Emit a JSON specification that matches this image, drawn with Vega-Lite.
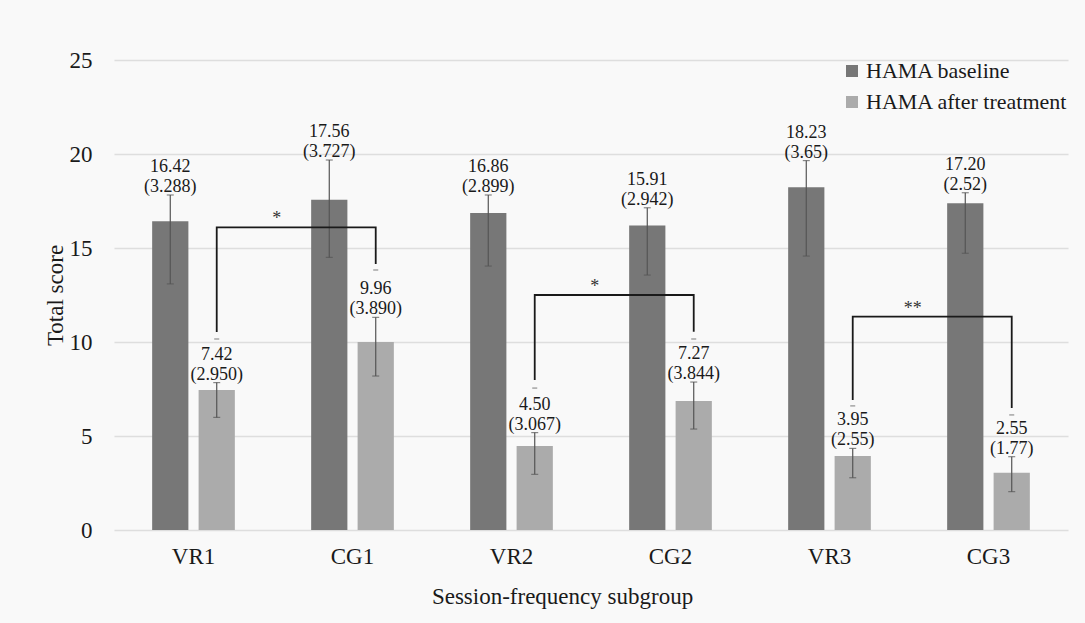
{
  "$schema": "https://vega.github.io/schema/vega-lite/v6.json",
  "width": 954,
  "height": 470,
  "autosize": {"type": "none"},
  "padding": {"left": 114, "top": 60, "right": 17, "bottom": 93},
  "background": "#f9f9f9",
  "config": {
    "font": "Liberation Serif",
    "view": {"stroke": null},
    "axis": {"labelFont": "Liberation Serif", "titleFont": "Liberation Serif", "labelColor": "#1a1a1a", "titleColor": "#1a1a1a", "titleFontWeight": "normal"},
    "legend": {"labelFont": "Liberation Serif"}
  },
  "datasets": {
    "bars": [
      {"group": "VR1", "series": "HAMA baseline", "value": 16.42, "lo": 13.09, "hi": 17.82, "label": "16.42\n(3.288)"},
      {"group": "CG1", "series": "HAMA baseline", "value": 17.56, "lo": 14.5, "hi": 19.68, "label": "17.56\n(3.727)"},
      {"group": "VR2", "series": "HAMA baseline", "value": 16.86, "lo": 14.04, "hi": 17.82, "label": "16.86\n(2.899)"},
      {"group": "CG2", "series": "HAMA baseline", "value": 16.2, "lo": 13.56, "hi": 17.14, "label": "15.91\n(2.942)"},
      {"group": "VR3", "series": "HAMA baseline", "value": 18.23, "lo": 14.57, "hi": 19.65, "label": "18.23\n(3.65)"},
      {"group": "CG3", "series": "HAMA baseline", "value": 17.38, "lo": 14.72, "hi": 17.94, "label": "17.20\n(2.52)"},
      {"group": "VR1", "series": "HAMA after treatment", "value": 7.45, "lo": 5.99, "hi": 7.84, "label": "7.42\n(2.950)"},
      {"group": "CG1", "series": "HAMA after treatment", "value": 10.0, "lo": 8.19, "hi": 11.31, "label": "9.96\n(3.890)"},
      {"group": "VR2", "series": "HAMA after treatment", "value": 4.47, "lo": 2.96, "hi": 5.18, "label": "4.50\n(3.067)"},
      {"group": "CG2", "series": "HAMA after treatment", "value": 6.86, "lo": 5.37, "hi": 7.87, "label": "7.27\n(3.844)"},
      {"group": "VR3", "series": "HAMA after treatment", "value": 3.94, "lo": 2.78, "hi": 4.34, "label": "3.95\n(2.55)"},
      {"group": "CG3", "series": "HAMA after treatment", "value": 3.05, "lo": 2.04, "hi": 3.9, "label": "2.55\n(1.77)"}
    ],
    "brackets": [
      {"b": 1, "ord": 1, "group": "VR1", "series": "HAMA after treatment", "y": 10.53},
      {"b": 1, "ord": 2, "group": "VR1", "series": "HAMA after treatment", "y": 16.1},
      {"b": 1, "ord": 3, "group": "CG1", "series": "HAMA after treatment", "y": 16.1},
      {"b": 1, "ord": 4, "group": "CG1", "series": "HAMA after treatment", "y": 14.15},
      {"b": 2, "ord": 1, "group": "VR2", "series": "HAMA after treatment", "y": 7.98},
      {"b": 2, "ord": 2, "group": "VR2", "series": "HAMA after treatment", "y": 12.5},
      {"b": 2, "ord": 3, "group": "CG2", "series": "HAMA after treatment", "y": 12.5},
      {"b": 2, "ord": 4, "group": "CG2", "series": "HAMA after treatment", "y": 10.55},
      {"b": 3, "ord": 1, "group": "VR3", "series": "HAMA after treatment", "y": 6.91},
      {"b": 3, "ord": 2, "group": "VR3", "series": "HAMA after treatment", "y": 11.35},
      {"b": 3, "ord": 3, "group": "CG3", "series": "HAMA after treatment", "y": 11.35},
      {"b": 3, "ord": 4, "group": "CG3", "series": "HAMA after treatment", "y": 6.49}
    ],
    "caps": [
      {"group": "VR1", "series": "HAMA after treatment", "y": 10.16},
      {"group": "CG1", "series": "HAMA after treatment", "y": 13.83},
      {"group": "VR2", "series": "HAMA after treatment", "y": 7.55},
      {"group": "CG2", "series": "HAMA after treatment", "y": 10.16},
      {"group": "VR3", "series": "HAMA after treatment", "y": 6.6},
      {"group": "CG3", "series": "HAMA after treatment", "y": 6.12}
    ],
    "stars": [
      {"group": "VR1", "series": "HAMA after treatment", "y": 16.1, "star": "*"},
      {"group": "VR2", "series": "HAMA after treatment", "y": 12.5, "star": "*"},
      {"group": "VR3", "series": "HAMA after treatment", "y": 11.35, "star": "**"}
    ]
  },
  "encoding": {
    "x": {
      "field": "group", "type": "nominal",
      "sort": ["VR1", "CG1", "VR2", "CG2", "VR3", "CG3"],
      "scale": {"paddingInner": 0.48, "paddingOuter": 0.24},
      "axis": {"labelAngle": 0, "labelFontSize": 23, "labelPadding": 15, "tickSize": 0, "domain": false, "title": "Session-frequency subgroup", "titleFontSize": 23, "titlePadding": 17, "titleX": 448}
    },
    "xOffset": {
      "field": "series", "type": "nominal",
      "sort": ["HAMA baseline", "HAMA after treatment"],
      "scale": {"paddingInner": 0.22, "paddingOuter": 0}
    }
  },
  "layer": [
    {
      "data": {"name": "bars"},
      "mark": {"type": "bar"},
      "encoding": {
        "y": {
          "field": "value", "type": "quantitative",
          "scale": {"domain": [0, 25], "nice": false},
          "axis": {"values": [0, 5, 10, 15, 20, 25], "grid": true, "gridColor": "#dedede", "gridWidth": 1.5, "labelFontSize": 23, "labelPadding": 22, "tickSize": 0, "domain": false, "title": "Total score", "titleFontSize": 23, "titlePadding": 2}
        },
        "color": {
          "field": "series", "type": "nominal",
          "scale": {"domain": ["HAMA baseline", "HAMA after treatment"], "range": ["#777777", "#ababab"]},
          "legend": {"title": null, "orient": "top-right", "offset": 0, "padding": 0, "labelFontSize": 22, "labelLimit": 400, "labelColor": "#1a1a1a", "symbolType": "square", "symbolSize": 144, "symbolStrokeWidth": 0, "rowPadding": 9, "labelOffset": 3}
        }
      }
    },
    {
      "data": {"name": "bars"},
      "mark": {"type": "rule", "color": "#555555", "strokeWidth": 1.2},
      "encoding": {
        "y": {"field": "lo", "type": "quantitative"},
        "y2": {"field": "hi"}
      }
    },
    {
      "data": {"name": "bars"},
      "mark": {"type": "tick", "color": "#555555", "thickness": 1.2, "size": 7},
      "encoding": {"y": {"field": "hi", "type": "quantitative"}}
    },
    {
      "data": {"name": "bars"},
      "mark": {"type": "tick", "color": "#555555", "thickness": 1.2, "size": 7},
      "encoding": {"y": {"field": "lo", "type": "quantitative"}}
    },
    {
      "data": {"name": "bars"},
      "mark": {"type": "text", "fontSize": 18, "lineHeight": 20, "lineBreak": "\n", "baseline": "bottom", "dy": -19, "color": "#1a1a1a"},
      "encoding": {
        "y": {"field": "hi", "type": "quantitative"},
        "text": {"field": "label"}
      }
    },
    {
      "data": {"name": "brackets"},
      "mark": {"type": "line", "color": "#1a1a1a", "strokeWidth": 1.8},
      "encoding": {
        "y": {"field": "y", "type": "quantitative"},
        "detail": {"field": "b"},
        "order": {"field": "ord"}
      }
    },
    {
      "data": {"name": "caps"},
      "mark": {"type": "tick", "color": "#444444", "thickness": 1, "size": 5},
      "encoding": {"y": {"field": "y", "type": "quantitative"}}
    },
    {
      "data": {"name": "stars"},
      "mark": {"type": "text", "fontSize": 18, "baseline": "alphabetic", "dy": -3, "dx": 60, "color": "#333333"},
      "encoding": {
        "y": {"field": "y", "type": "quantitative"},
        "text": {"field": "star"}
      }
    }
  ]
}
